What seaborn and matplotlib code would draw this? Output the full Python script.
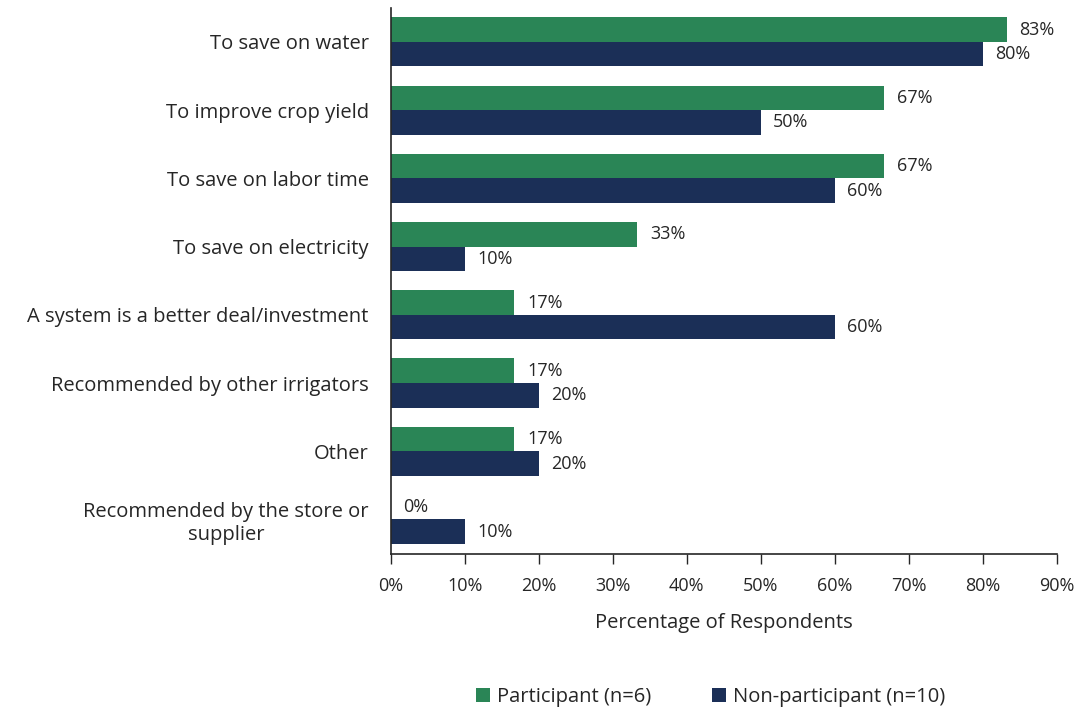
import matplotlib
matplotlib.use("Agg")
import matplotlib.pyplot as plt
import seaborn as sns
import pandas as pd
from matplotlib.ticker import FuncFormatter, MultipleLocator

categories = [
    "To save on water",
    "To improve crop yield",
    "To save on labor time",
    "To save on electricity",
    "A system is a better deal/investment",
    "Recommended by other irrigators",
    "Other",
    "Recommended by the store or\nsupplier",
]
participant = [83.3, 66.7, 66.7, 33.3, 16.7, 16.7, 16.7, 0]
non_participant = [80, 50, 60, 10, 60, 20, 20, 10]
series_names = ["Participant (n=6)", "Non-participant (n=10)"]
colors = ["#2A8556", "#1B2F57"]

df = pd.DataFrame({
    "Reason": categories * 2,
    "Value": participant + non_participant,
    "Group": [series_names[0]] * len(categories) + [series_names[1]] * len(categories),
})

sns.set_theme(style="white")
plt.rcParams["font.family"] = ["Open Sans", "DejaVu Sans"]
FS_TXT = 14.5
FS_NUM = 13
TC = "#262626"

fig = plt.figure(figsize=(10.86, 7.07), dpi=100)
ax = fig.add_axes([0.360, 0.217, 0.613, 0.772])

sns.barplot(data=df, y="Reason", x="Value", hue="Group", order=categories,
            hue_order=series_names, palette=colors, orient="h", width=0.72,
            saturation=1, ax=ax, legend=True, linewidth=0)

for cont in ax.containers:
    ax.bar_label(cont, labels=[f"{v:.0f}%" for v in cont.datavalues],
                 padding=9, fontsize=FS_NUM, color=TC)

ax.set_xlim(0, 90)
ax.set_ylim(7.5, -0.5)
ax.xaxis.set_major_locator(MultipleLocator(10))
ax.xaxis.set_major_formatter(FuncFormatter(lambda v, p: f"{v:.0f}%"))
ax.tick_params(axis="x", labelsize=FS_NUM, colors=TC, length=7, width=1,
               direction="out", bottom=True, pad=10)
ax.tick_params(axis="y", labelsize=FS_TXT, colors=TC, length=0, pad=16)
for lab in ax.get_yticklabels():
    lab.set_multialignment("center")
ax.set_ylabel("")
ax.set_xlabel("Percentage of Respondents", fontsize=FS_TXT, color=TC, labelpad=13)

for s in ["top", "right"]:
    ax.spines[s].set_visible(False)
for s in ["left", "bottom"]:
    ax.spines[s].set_color(TC)
    ax.spines[s].set_linewidth(1.2)

leg = ax.legend(loc="lower center", bbox_to_anchor=(0.48, -0.315), ncol=2,
                frameon=False, fontsize=FS_TXT, handlelength=0.7, handleheight=0.7,
                columnspacing=3.0, handletextpad=0.35)
for t in leg.get_texts():
    t.set_color(TC)

fig.savefig("out.png", dpi=100)
